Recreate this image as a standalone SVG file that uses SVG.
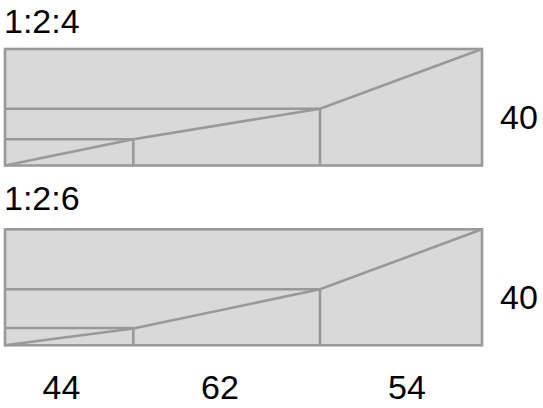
<svg xmlns="http://www.w3.org/2000/svg" width="543" height="408" viewBox="0 0 543 408">
<style>
.box{fill:#d9d9d9;stroke:#999999;stroke-width:2.6}
.ln{fill:none;stroke:#999999;stroke-width:2.6}
.t{font-family:"Liberation Sans",Arial,sans-serif;font-size:34px;fill:#000}
</style>
<rect width="543" height="408" fill="#ffffff"/>
<g id="diagram-124">
<rect class="box" x="5" y="49" width="477" height="116.5"/>
<path class="ln" d="M5 108.7H320M5 139.3H133.3M133.3 139.3V165.5M320 108.7V165.5"/>
<polyline class="ln" points="5,165.5 133.3,139.3 320,108.7 482,49"/>
<text class="t" x="4" y="33">1:2:4</text>
<text class="t" x="500" y="129">40</text>
</g>
<g id="diagram-126">
<rect class="box" x="5" y="229.3" width="477" height="116"/>
<path class="ln" d="M5 289.3H320M5 328H133.3M133.3 328V345.3M320 289.3V345.3"/>
<polyline class="ln" points="5,345.3 133.3,328.5 320,289.3 482,229.3"/>
<text class="t" x="4" y="210">1:2:6</text>
<text class="t" x="500" y="309">40</text>
</g>
<g id="labels">
<text class="t" x="61.5" y="399" text-anchor="middle">44</text>
<text class="t" x="220" y="399" text-anchor="middle">62</text>
<text class="t" x="407" y="398.5" text-anchor="middle">54</text>
</g>
</svg>
